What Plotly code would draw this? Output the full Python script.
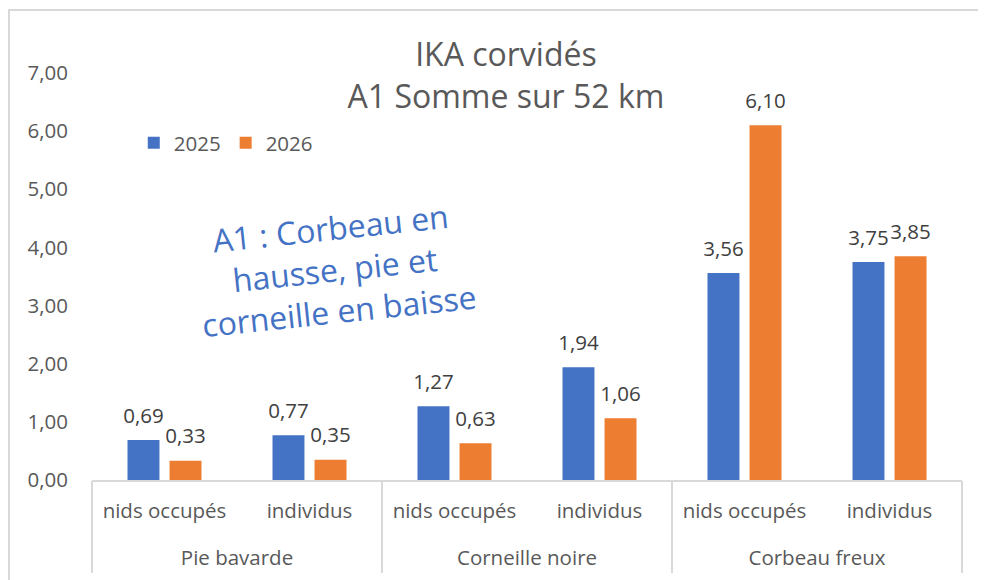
import plotly.graph_objects as go

# ---- data ----
groups = ["Pie bavarde", "Pie bavarde", "Corneille noire", "Corneille noire", "Corbeau freux", "Corbeau freux"]
subcats = ["nids occupés", "individus", "nids occupés", "individus", "nids occupés", "individus"]
vals_2025 = [0.69, 0.77, 1.27, 1.94, 3.56, 3.75]
vals_2026 = [0.33, 0.35, 0.63, 1.06, 6.10, 3.85]
series_names = ["2025", "2026"]
title_lines = ["IKA corvidés", "A1 Somme sur 52 km"]
note_text = "A1 : Corbeau en<br>hausse, pie et<br>corneille en baisse"

BLUE = "#4472C4"
ORANGE = "#ED7D31"
GREY = "#595959"
LINE = "#D9D9D9"
FONT = "Open Sans"
FS = 20.5

# unique category keys (group + sub-category), shown with the sub-category text
keys = [f"{g} | {s}" for g, s in zip(groups, subcats)]
group_names = list(dict.fromkeys(groups))


def fmt(v):
    return f"{v:.2f}".replace(".", ",")


fig = go.Figure()
for name, vals, col in [(series_names[0], vals_2025, BLUE), (series_names[1], vals_2026, ORANGE)]:
    fig.add_trace(go.Bar(
        x=keys, y=vals, name=name, marker_color=col,
        marker_line_width=0, offsetgroup=name, hoverinfo="skip",
    ))
for name, vals in [(series_names[0], vals_2025), (series_names[1], vals_2026)]:
    fig.add_trace(go.Scatter(
        x=keys, y=vals, mode="markers+text",
        text=[fmt(v) for v in vals], textposition="top center",
        textfont=dict(family=FONT, size=FS, color="#404040"),
        marker=dict(size=18, opacity=0), offsetgroup=name,
        showlegend=False, hoverinfo="skip", cliponaxis=False,
    ))
# invisible traces carrying the group level of the category axis
for xa in ["x2", "x3"]:
    fig.add_trace(go.Scatter(
        x=group_names, y=[0] * len(group_names), xaxis=xa, yaxis="y",
        mode="markers", marker=dict(opacity=0, size=1),
        showlegend=False, hoverinfo="skip",
    ))

fig.update_layout(
    width=986, height=580,
    margin=dict(l=84, r=32, t=64.5, b=108),
    paper_bgcolor="white", plot_bgcolor="white",
    separators=", ",
    barmode="group", bargap=0.42, bargroupgap=0.24,
    scattermode="group", scattergap=0.42,
    font=dict(family=FONT, size=FS, color=GREY),
    title=dict(
        text="<br>".join(title_lines),
        font=dict(family=FONT, size=32, color=GREY),
        x=0.505, xanchor="center", y=0.9, yanchor="middle",
    ),
    legend=dict(
        orientation="h", x=0.048, xanchor="left", y=0.828, yanchor="middle",
        font=dict(family=FONT, size=FS, color=GREY), bgcolor="rgba(0,0,0,0)",
    ),
    showlegend=True,
    hovermode=False,
)
fig.update_yaxes(
    range=[0, 7], dtick=1, tickformat=".2f", showgrid=False, zeroline=False,
    showline=False, ticks="", tickfont=dict(family=FONT, size=FS, color=GREY),
    ticklabelstandoff=23,
)
fig.update_layout(
    xaxis=dict(
        type="category", tickvals=keys, ticktext=subcats,
        showline=True, linecolor=LINE, linewidth=1.5,
        ticks="", showgrid=False, ticklabelstandoff=12,
        tickfont=dict(family=FONT, size=FS, color=GREY),
    ),
    # group labels
    xaxis2=dict(
        type="category", overlaying="x", anchor="y", side="bottom",
        showline=False, showgrid=False, ticks="", ticklabelstandoff=63,
        tickfont=dict(family=FONT, size=FS, color=GREY),
    ),
    # group dividers
    xaxis3=dict(
        type="category", overlaying="x", anchor="y", side="bottom",
        showline=False, showgrid=False, ticks="outside", tickson="boundaries",
        ticklen=92, tickcolor=LINE, tickwidth=1.5, showticklabels=False,
    ),
)

fig.add_annotation(
    text=note_text, xref="paper", yref="paper", x=0.279, y=0.518,
    xanchor="center", yanchor="middle", showarrow=False, textangle=-6,
    font=dict(family=FONT, size=32, color=BLUE),
)

# chart-area border (top and left visible)
fig.add_shape(
    type="rect", xref="paper", yref="paper",
    x0=-0.0954, x1=1.2, y0=-0.5, y1=1.155,
    line=dict(color=LINE, width=2), layer="below",
)

fig.write_html("out.html")
